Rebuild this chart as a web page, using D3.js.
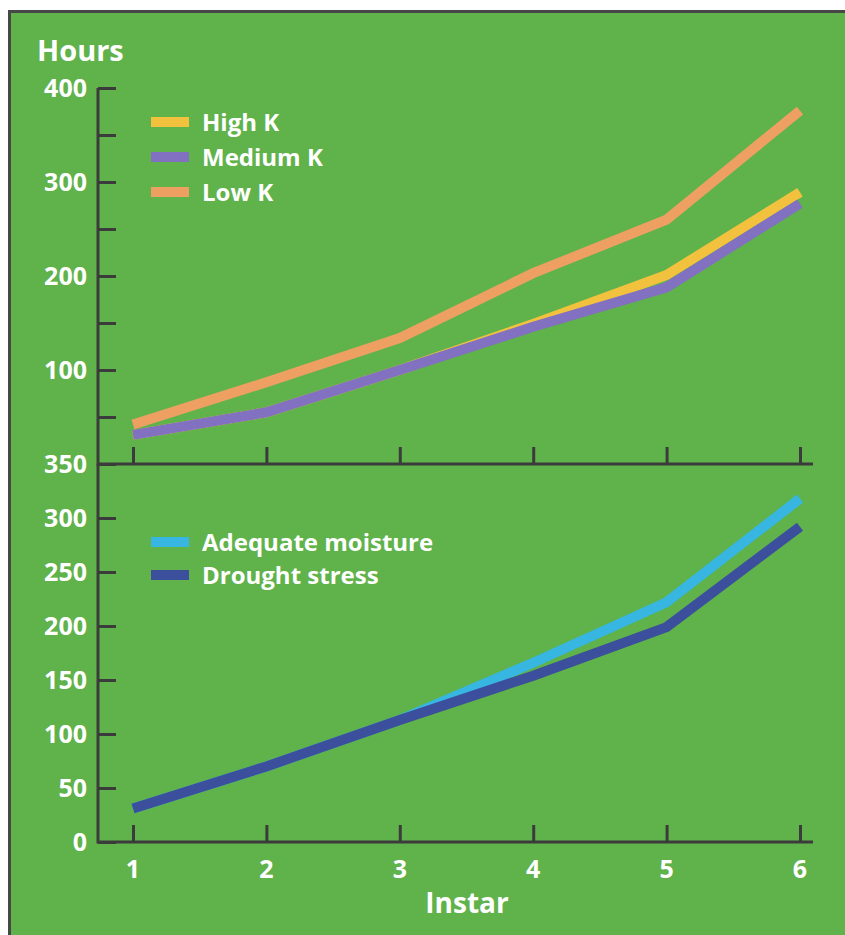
<!DOCTYPE html>
<html lang="en">
<head>
  <meta charset="UTF-8">
  <title>Hours per instar</title>
  <script src="https://d3js.org/d3.v7.min.js" charset="utf-8"></script>
</head>
<body>
<div id="chart"></div>

<style>
body {
  margin: 0;
  overflow: hidden;
  background: #ffffff;
}
svg {
  display: block;
}
text {
  font-family: "Open Sans", Lato, sans-serif;
  font-weight: bold;
  fill: #ffffff;
}
</style>

<script>

// instar on the x axis
var instars = [1, 2, 3, 4, 5, 6];

// top panel: potassium
var highK = [31, 55, 100, 149, 201, 289];
var mediumK = [31, 55, 100, 146, 188, 277];
var lowK = [42, 87, 134, 203, 260, 376];

// bottom panel: moisture
var adequate = [31, 70, 113, 166, 222, 318];
var drought = [31, 70, 113, 154, 199, 292];

var topTicks = [0, 50, 100, 150, 200, 250, 300, 350, 400];
var topLabels = [100, 200, 300, 400];
var bottomTicks = [0, 50, 100, 150, 200, 250, 300, 350];

var topSeries = [
  {name: "High K", values: highK, color: "#f2c23e"},
  {name: "Medium K", values: mediumK, color: "#8270c0"},
  {name: "Low K", values: lowK, color: "#eda062"}
];
var bottomSeries = [
  {name: "Adequate moisture", values: adequate, color: "#36b6e0"},
  {name: "Drought stress", values: drought, color: "#3c4f9c"}
];

var width = 845, height = 935;
var axisColor = "#3b3b3b";

var svg = d3.select('#chart').append('svg')
  .attr("width", width)
  .attr("height", height);

// green panel with a dark frame
svg.append("rect")
  .attr("x", 9.5)
  .attr("y", 11.5)
  .attr("width", 860)
  .attr("height", 940)
  .attr("fill", "#60b24b")
  .attr("stroke", "#474747")
  .attr("stroke-width", 3);

var x = d3.scaleLinear()
  .domain([1, 6])
  .range([133, 800]);

var yTop = d3.scaleLinear()
  .domain([0, 400])
  .range([464, 88]);

var yBottom = d3.scaleLinear()
  .domain([0, 350])
  .range([842, 464]);

// y axes, ticks point inward
function drawY(scale, ticks, labels) {
  var g = svg.append("g")
    .attr("transform", "translate(98,0)")
    .call(d3.axisRight(scale).tickValues(ticks).tickSize(18).tickFormat(""));
  g.select(".domain").remove();
  g.selectAll(".tick line")
    .attr("stroke", axisColor)
    .attr("stroke-width", 3);
  svg.append("line")
    .attr("x1", 98).attr("x2", 98)
    .attr("y1", scale.range()[1]).attr("y2", scale.range()[0] + 1.5)
    .attr("stroke", axisColor)
    .attr("stroke-width", 3);
  svg.selectAll(null)
    .data(labels)
    .join("text")
    .attr("x", 87)
    .attr("y", d => scale(d))
    .attr("dy", "0.36em")
    .attr("text-anchor", "end")
    .attr("font-size", 25)
    .text(d => d);
}

drawY(yTop, topTicks, topLabels);
drawY(yBottom, bottomTicks, bottomTicks);

// x axes
function drawX(yPos) {
  var g = svg.append("g")
    .attr("transform", "translate(0," + yPos + ")")
    .call(d3.axisTop(x).tickValues(instars).tickSize(17).tickFormat(""));
  g.select(".domain").remove();
  g.selectAll(".tick line")
    .attr("stroke", axisColor)
    .attr("stroke-width", 3);
  svg.append("line")
    .attr("x1", 98).attr("x2", 813)
    .attr("y1", yPos).attr("y2", yPos)
    .attr("stroke", axisColor)
    .attr("stroke-width", 3);
}

drawX(464);
drawX(842);

svg.selectAll(null)
  .data(instars)
  .join("text")
  .attr("x", d => x(d))
  .attr("y", 878)
  .attr("text-anchor", "middle")
  .attr("font-size", 25)
  .text(d => d);

svg.append("text")
  .attr("x", 467)
  .attr("y", 913)
  .attr("text-anchor", "middle")
  .attr("font-size", 28)
  .text("Instar");

svg.append("text")
  .attr("x", 37)
  .attr("y", 61)
  .attr("font-size", 29)
  .text("Hours");

// lines
function drawLines(series, scale) {
  var line = d3.line()
    .x((d, i) => x(instars[i]))
    .y(d => scale(d));
  svg.selectAll(null)
    .data(series)
    .join("path")
    .attr("fill", "none")
    .attr("stroke", d => d.color)
    .attr("stroke-width", 10)
    .attr("stroke-linejoin", "miter")
    .attr("d", d => line(d.values));
}

drawLines(topSeries, yTop);
drawLines(bottomSeries, yBottom);

// legends
function drawLegend(series, top, step) {
  var g = svg.selectAll(null)
    .data(series)
    .join("g")
    .attr("transform", (d, i) => "translate(151," + (top + i * step) + ")");
  g.append("rect")
    .attr("x", 0).attr("y", -5)
    .attr("width", 38).attr("height", 10)
    .attr("fill", d => d.color);
  g.append("text")
    .attr("x", 51)
    .attr("dy", "0.36em")
    .attr("font-size", 24)
    .text(d => d.name);
}

drawLegend(topSeries, 122, 35);
drawLegend(bottomSeries, 542, 33);

</script>
</body>
</html>
